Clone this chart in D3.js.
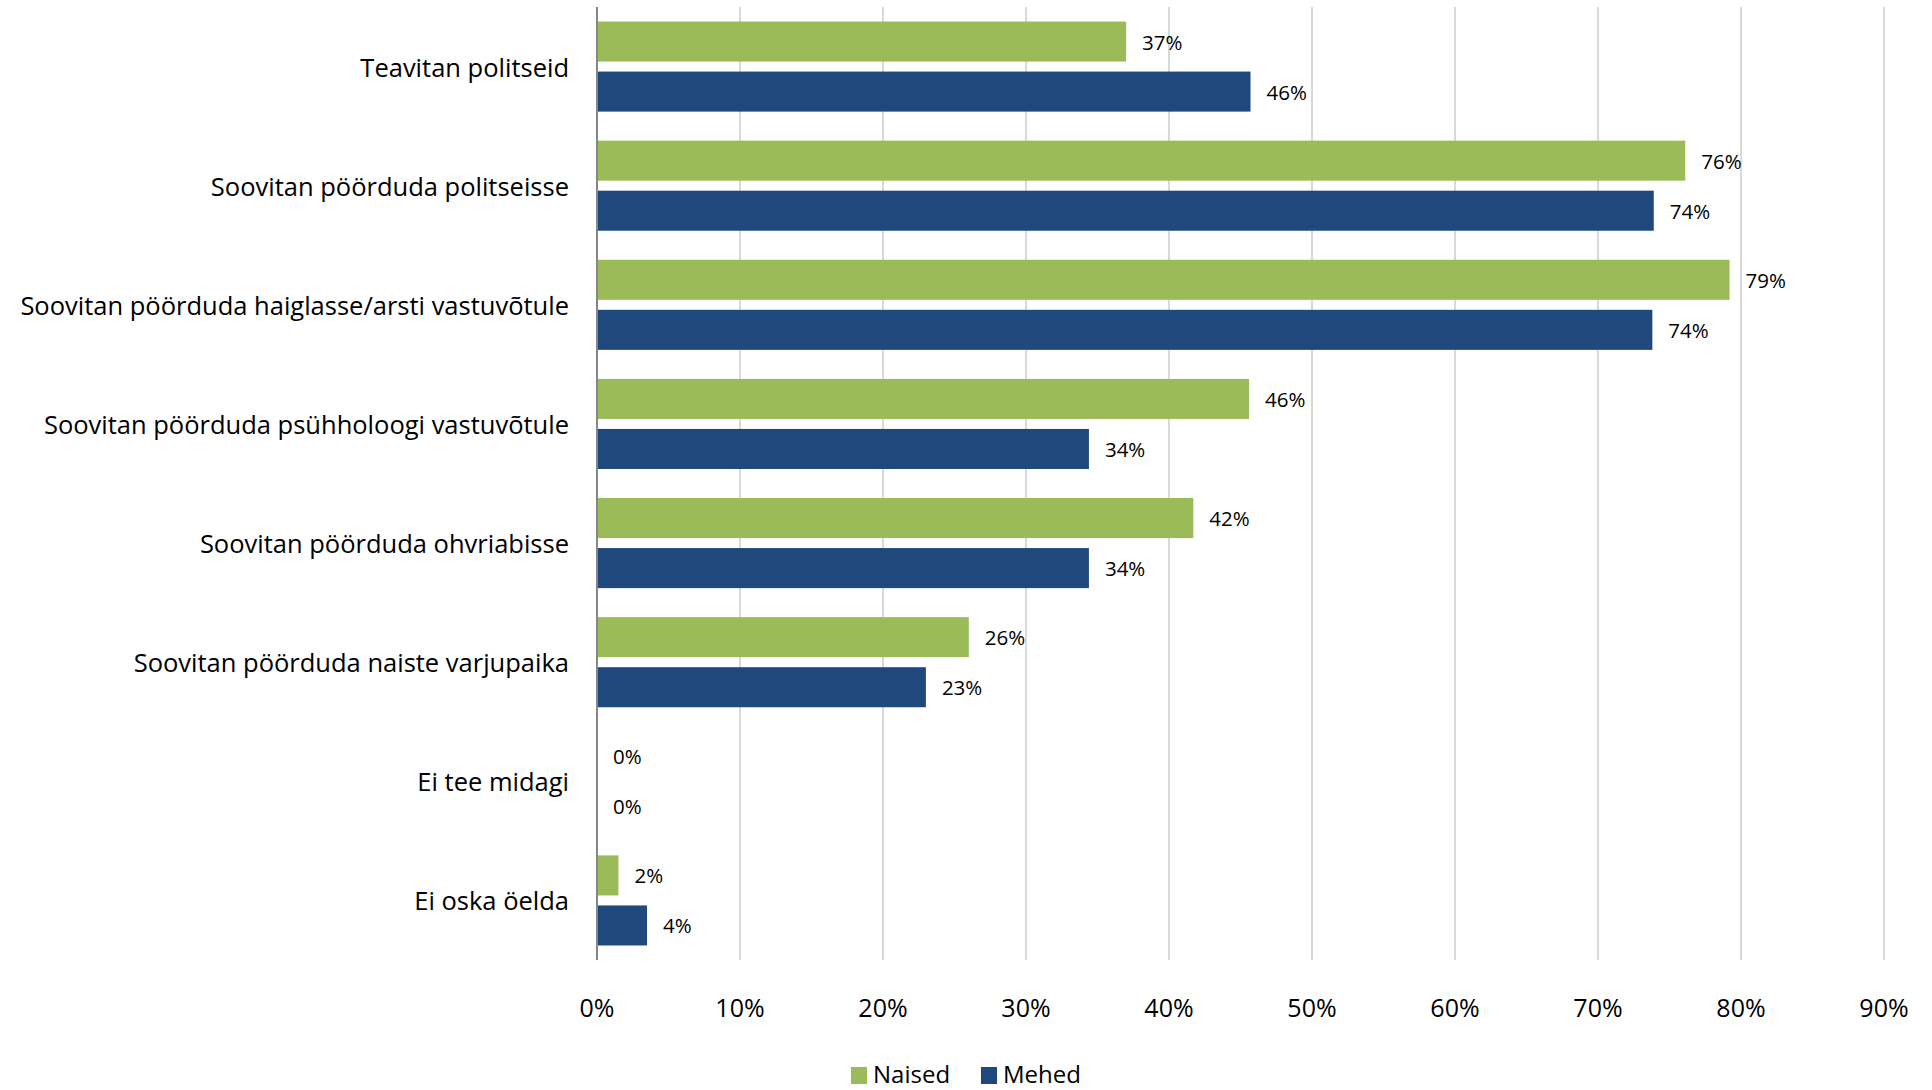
<!DOCTYPE html>
<html>
<head>
<meta charset="utf-8">
<script src="https://cdn.jsdelivr.net/npm/d3@7"></script>
<style>
  html, body { margin: 0; padding: 0; background: #fff; }
  svg { display: block; }
  text { font-family: "Open Sans", "Noto Sans", sans-serif; fill: #000; }
</style>
</head>
<body>
<script>
const categories = [
  "Teavitan politseid",
  "Soovitan pöörduda politseisse",
  "Soovitan pöörduda haiglasse/arsti vastuvõtule",
  "Soovitan pöörduda psühholoogi vastuvõtule",
  "Soovitan pöörduda ohvriabisse",
  "Soovitan pöörduda naiste varjupaika",
  "Ei tee midagi",
  "Ei oska öelda"
];
const seriesNames = ["Naised", "Mehed"];
const naised = [37.0, 76.1, 79.2, 45.6, 41.7, 26.0, 0, 1.5];
const mehed  = [45.7, 73.9, 73.8, 34.4, 34.4, 23.0, 0, 3.5];
const naisedLabels = ["37%", "76%", "79%", "46%", "42%", "26%", "0%", "2%"];
const mehedLabels  = ["46%", "74%", "74%", "34%", "34%", "23%", "0%", "4%"];
const tickValues = [0, 10, 20, 30, 40, 50, 60, 70, 80, 90];
const tickLabels = ["0%", "10%", "20%", "30%", "40%", "50%", "60%", "70%", "80%", "90%"];
const colors = ["#9bbb59", "#1f497d"];

const W = 1932, H = 1090;
const plotLeft = 597, plotRight = 1884, plotTop = 7, plotBottom = 960;

const svg = d3.select("body").append("svg").attr("width", W).attr("height", H);

const x = d3.scaleLinear().domain([0, 90]).range([plotLeft, plotRight]);
const y0 = d3.scaleBand().domain(categories).range([plotTop, plotBottom]).paddingInner(0).paddingOuter(0);
const y1 = d3.scaleBand().domain(seriesNames).range([0, y0.bandwidth()]).paddingInner(0.2).paddingOuter(0.29);

// gridlines
svg.append("g").selectAll("line").data(tickValues.slice(1)).join("line")
  .attr("x1", d => x(d)).attr("x2", d => x(d))
  .attr("y1", plotTop).attr("y2", plotBottom)
  .attr("stroke", "#d9d9d9").attr("stroke-width", 2);

// tick labels
svg.append("g").selectAll("text").data(tickValues).join("text")
  .attr("x", d => x(d)).attr("y", 1007)
  .attr("text-anchor", "middle").attr("dominant-baseline", "central")
  .style("font-size", "25px")
  .text((d, i) => tickLabels[i]);

const data = categories.map((c, i) => ({
  cat: c,
  vals: [
    { s: seriesNames[0], v: naised[i], lab: naisedLabels[i], col: colors[0] },
    { s: seriesNames[1], v: mehed[i], lab: mehedLabels[i], col: colors[1] }
  ]
}));

const groups = svg.append("g").selectAll("g").data(data).join("g")
  .attr("transform", d => `translate(0,${y0(d.cat)})`);

groups.selectAll("rect").data(d => d.vals).join("rect")
  .attr("x", x(0)).attr("y", d => y1(d.s))
  .attr("width", d => x(d.v) - x(0)).attr("height", y1.bandwidth())
  .attr("fill", d => d.col);

groups.selectAll("text.val").data(d => d.vals).join("text")
  .attr("class", "val")
  .attr("x", d => x(d.v) + 16)
  .attr("y", d => y1(d.s) + y1.bandwidth() / 2)
  .attr("dominant-baseline", "central")
  .style("font-size", "20.5px")
  .text(d => d.lab);

// category labels
svg.append("g").selectAll("text").data(categories).join("text")
  .attr("x", 569)
  .attr("y", d => y0(d) + y1(seriesNames[1]) - (y1.step() - y1.bandwidth()) / 2)
  .attr("text-anchor", "end").attr("dominant-baseline", "central")
  .style("font-size", "25.5px")
  .text(d => d);

// axis line
svg.append("line")
  .attr("x1", x(0)).attr("x2", x(0)).attr("y1", plotTop).attr("y2", plotBottom)
  .attr("stroke", "#868686").attr("stroke-width", 2);

// legend
const legendX = [851, 981];
const lg = svg.append("g").selectAll("g").data(seriesNames).join("g")
  .attr("transform", (d, i) => `translate(${legendX[i]},1067)`);
lg.append("rect").attr("width", 16).attr("height", 17).attr("fill", (d, i) => colors[i]);
lg.append("text").attr("x", 22).attr("y", 16)
  .style("font-size", "24px").text(d => d);
</script>
</body>
</html>
